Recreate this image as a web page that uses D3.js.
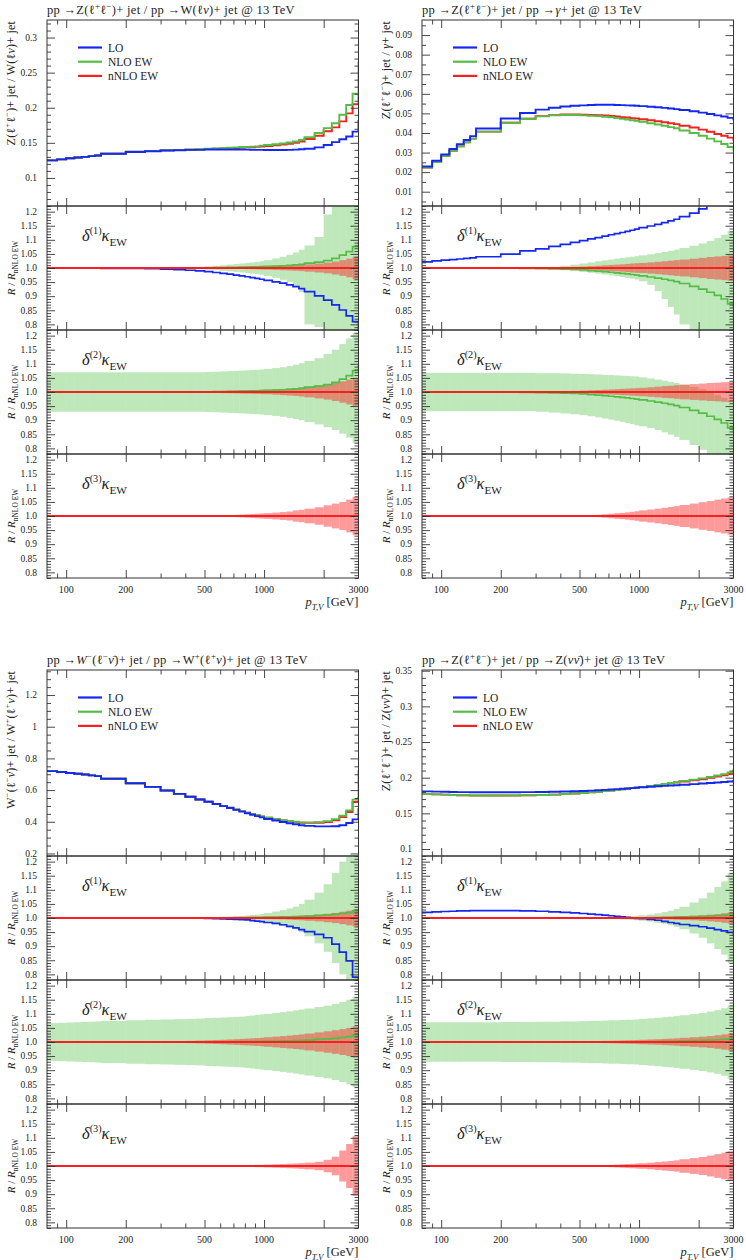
<!DOCTYPE html>
<html><head><meta charset="utf-8">
<script src="https://cdn.jsdelivr.net/npm/d3@7"></script>
<style>
body{margin:0;background:#fff}
svg{display:block}
text{font-family:"Liberation Serif","DejaVu Serif",serif;fill:#222}
</style>
</head><body>
<svg id="c" width="746" height="1260" font-family="Liberation Serif, DejaVu Serif, serif"></svg>
<script>
// ---------------- DATA ----------------
const edges = [80,90,100,110,120,130,140,150,200,250,300,350,400,450,500,550,600,650,700,750,800,850,900,950,1000,1100,1200,1300,1400,1500,1600,1800,2000,2200,2400,2600,2800,3000,3500];
const xMajor = [100,200,500,1000,2000];
const xMinor = [90,300,400,600,700,800,900];
const xLabelVals = [100,200,500,1000,3000];
const xLabelText = ['100','200','500','1000','3000'];
const ratioTicks = [0.8,0.85,0.9,0.95,1.0,1.05,1.1,1.15,1.2];
const ratioTickText = ['0.8','0.85','0.9','0.95','1.0','1.05','1.1','1.15','1.2'];
const seriesNames = ['LO','NLO EW','nNLO EW'];

// Panel A: Z(ll)+jet / W(lv)+jet
const A_TICKS = [0.1,0.15,0.2,0.25,0.3];
const A_TICK_TEXT = ['0.1','0.15','0.2','0.25','0.3'];
const A_LO = [0.125,0.1265,0.128,0.129,0.130,0.131,0.132,0.1345,0.137,0.138,0.139,0.1395,0.140,0.140,0.1405,0.1405,0.1405,0.1405,0.1405,0.1405,0.1403,0.1402,0.140,0.140,0.1398,0.1398,0.1398,0.140,0.1403,0.1408,0.1415,0.1435,0.147,0.151,0.155,0.159,0.166,0.181];
const A_NLO = [0.125,0.1265,0.128,0.129,0.130,0.131,0.132,0.1345,0.1375,0.1385,0.1395,0.140,0.1405,0.141,0.1415,0.142,0.1425,0.143,0.1435,0.144,0.1443,0.1446,0.145,0.146,0.147,0.148,0.149,0.1505,0.152,0.154,0.158,0.164,0.171,0.178,0.19,0.204,0.220,0.265];
const A_NNLO = [0.125,0.1265,0.128,0.129,0.130,0.131,0.132,0.1345,0.1373,0.1383,0.1393,0.1398,0.1403,0.1407,0.1411,0.1415,0.1419,0.1423,0.1427,0.1431,0.1435,0.1439,0.1443,0.1447,0.1455,0.1465,0.1475,0.1485,0.150,0.152,0.1555,0.160,0.1665,0.172,0.1805,0.192,0.205,0.218];
const A_R1_LO = [1,1,1,1,1,1,0.9995,0.999,0.999,0.998,0.996,0.994,0.992,0.99,0.987,0.984,0.981,0.978,0.975,0.972,0.969,0.966,0.963,0.960,0.956,0.951,0.946,0.940,0.934,0.927,0.916,0.901,0.886,0.869,0.851,0.830,0.810,0.77];
const A_RATIO_NLO = [1,1,1,1,1,1,1,1,1,1,1,1,1,1,1.0005,1.001,1.0015,1.002,1.0025,1.003,1.0035,1.004,1.0045,1.005,1.006,1.007,1.008,1.009,1.011,1.013,1.017,1.021,1.026,1.034,1.046,1.058,1.076,1.09];
const A_R1_GUP = [1.0005,1.0005,1.0005,1.0005,1.0005,1.0005,1.0005,1.0005,1.0005,1.0005,1.001,1.002,1.003,1.004,1.006,1.008,1.010,1.012,1.014,1.016,1.018,1.020,1.022,1.024,1.028,1.034,1.040,1.047,1.055,1.065,1.08,1.11,1.19,1.25,1.25,1.25,1.25];
const A_R1_GLO = [0.9995,0.9995,0.9995,0.9995,0.9995,0.9995,0.9995,0.9995,0.9995,0.9995,0.999,0.998,0.997,0.996,0.994,0.992,0.990,0.988,0.986,0.984,0.982,0.980,0.978,0.976,0.971,0.965,0.958,0.95,0.935,0.915,0.80,0.79,0.75,0.75,0.75,0.75,0.75];
const A_R1_RED = [0,0,0,0,0,0,0,0,0,0,0,0,0,0,0.001,0.0015,0.002,0.0025,0.003,0.0035,0.004,0.0045,0.005,0.0055,0.006,0.007,0.008,0.009,0.010,0.011,0.013,0.016,0.019,0.023,0.028,0.033,0.04];
const A_R2_GUP = [1.07,1.07,1.07,1.07,1.07,1.07,1.07,1.07,1.07,1.07,1.07,1.07,1.07,1.07,1.071,1.072,1.073,1.074,1.075,1.076,1.077,1.078,1.079,1.08,1.082,1.085,1.088,1.092,1.097,1.102,1.11,1.12,1.135,1.15,1.17,1.19,1.21];
const A_R2_GLO = [0.93,0.93,0.93,0.93,0.93,0.93,0.93,0.93,0.93,0.93,0.93,0.93,0.93,0.93,0.929,0.928,0.927,0.926,0.925,0.924,0.923,0.922,0.921,0.92,0.918,0.915,0.912,0.908,0.904,0.90,0.893,0.885,0.875,0.865,0.852,0.838,0.82];
const A_R2_RED = [0,0,0,0,0,0,0,0,0,0.0005,0.001,0.0015,0.002,0.0025,0.003,0.0035,0.004,0.0045,0.005,0.0055,0.006,0.0065,0.007,0.0075,0.008,0.0095,0.011,0.0125,0.014,0.016,0.019,0.023,0.027,0.032,0.038,0.044,0.05];
const A_R3_RED = [0,0,0,0,0,0,0,0,0,0,0,0,0,0,0.001,0.0015,0.002,0.003,0.004,0.005,0.006,0.007,0.008,0.009,0.010,0.012,0.014,0.016,0.02,0.022,0.026,0.031,0.038,0.044,0.05,0.058,0.068];

// Panel B: Z(ll)+jet / gamma+jet
const B_TICKS = [0.01,0.02,0.03,0.04,0.05,0.06,0.07,0.08,0.09];
const B_TICK_TEXT = ['0.01','0.02','0.03','0.04','0.05','0.06','0.07','0.08','0.09'];
const B_LO = [0.0229,0.0258,0.0290,0.0318,0.0343,0.0364,0.0384,0.0423,0.0474,0.0502,0.0519,0.0529,0.0535,0.0539,0.0541,0.0543,0.0544,0.0544,0.0544,0.0543,0.0542,0.0541,0.0540,0.0539,0.0537,0.0534,0.0531,0.0528,0.0525,0.0522,0.0517,0.0511,0.0504,0.0497,0.0490,0.0484,0.0477,0.0470];
const B_NLO = [0.0224,0.0252,0.0282,0.0309,0.0332,0.0352,0.0371,0.0407,0.0452,0.0473,0.0485,0.0490,0.0492,0.0492,0.0490,0.0488,0.0486,0.0483,0.0480,0.0476,0.0472,0.0469,0.0465,0.0462,0.0457,0.0450,0.0443,0.0437,0.0430,0.0424,0.0413,0.0400,0.0386,0.0371,0.0357,0.0344,0.0328,0.0313];
const B_NNLO = [0.0224,0.0252,0.0282,0.0309,0.0332,0.0352,0.0371,0.0407,0.0452,0.0473,0.0486,0.0491,0.0494,0.0494,0.0493,0.0492,0.0491,0.0489,0.0487,0.0484,0.0481,0.0479,0.0476,0.0474,0.0470,0.0465,0.0460,0.0455,0.0450,0.0445,0.0437,0.0428,0.0417,0.0406,0.0395,0.0386,0.0376,0.0364];
const B_R1_LO = [1.022,1.025,1.028,1.030,1.032,1.034,1.036,1.040,1.049,1.061,1.068,1.077,1.084,1.091,1.097,1.103,1.108,1.113,1.118,1.122,1.126,1.130,1.134,1.138,1.143,1.149,1.155,1.161,1.167,1.173,1.182,1.195,1.210,1.225,1.240,1.255,1.270,1.29];
const B_RATIO_NLO = [1,1,1,1,1,1,1,1,0.9995,0.999,0.998,0.997,0.996,0.995,0.993,0.991,0.989,0.987,0.985,0.983,0.981,0.979,0.977,0.975,0.972,0.968,0.964,0.960,0.956,0.952,0.945,0.935,0.925,0.914,0.903,0.890,0.873,0.86];
const B_R1_GUP = [1,1,1,1,1,1,1,1,1.0005,1.001,1.002,1.004,1.008,1.012,1.016,1.02,1.024,1.027,1.03,1.033,1.036,1.038,1.04,1.042,1.045,1.049,1.053,1.057,1.061,1.065,1.071,1.079,1.087,1.096,1.106,1.118,1.13];
const B_R1_GLO = [1,1,1,1,1,1,1,1,0.999,0.9985,0.998,0.995,0.992,0.989,0.986,0.983,0.98,0.977,0.974,0.971,0.968,0.965,0.962,0.959,0.953,0.94,0.918,0.89,0.862,0.835,0.80,0.75,0.75,0.75,0.75,0.75,0.75];
const B_R1_RED = [0,0,0,0,0,0,0,0,0,0,0.001,0.002,0.003,0.004,0.005,0.0065,0.008,0.0095,0.011,0.012,0.013,0.0145,0.016,0.017,0.018,0.02,0.022,0.024,0.026,0.028,0.03,0.033,0.036,0.039,0.041,0.043,0.045];
const B_R2_GUP = [1.068,1.068,1.068,1.068,1.068,1.068,1.068,1.068,1.068,1.068,1.067,1.067,1.066,1.065,1.064,1.063,1.062,1.061,1.06,1.059,1.058,1.057,1.056,1.055,1.052,1.048,1.044,1.04,1.036,1.032,1.026,1.018,1.01,1.0,0.99,0.98,0.97];
const B_R2_GLO = [0.932,0.932,0.932,0.932,0.932,0.932,0.932,0.932,0.932,0.932,0.93,0.927,0.924,0.921,0.918,0.914,0.91,0.906,0.902,0.898,0.894,0.89,0.886,0.882,0.878,0.872,0.865,0.857,0.849,0.841,0.83,0.812,0.795,0.775,0.76,0.76,0.76];
const B_R2_RED = [0,0,0,0,0,0,0,0,0,0,0.001,0.002,0.003,0.004,0.005,0.006,0.007,0.008,0.009,0.010,0.011,0.012,0.013,0.014,0.015,0.017,0.019,0.021,0.022,0.024,0.026,0.028,0.030,0.032,0.033,0.035,0.036];
const B_R3_RED = [0,0,0,0,0,0,0,0,0,0,0,0,0,0,0.002,0.003,0.004,0.006,0.008,0.010,0.011,0.013,0.015,0.017,0.02,0.023,0.026,0.029,0.032,0.035,0.039,0.044,0.049,0.053,0.058,0.062,0.066];

// Panel C: W-(l-v)+jet / W+(l+v)+jet
const C_TICKS = [0.2,0.4,0.6,0.8,1.0,1.2];
const C_TICK_TEXT = ['0.2','0.4','0.6','0.8','1','1.2'];
const C_LO = [0.720,0.714,0.708,0.703,0.698,0.693,0.688,0.672,0.643,0.620,0.597,0.576,0.558,0.541,0.526,0.512,0.499,0.487,0.475,0.464,0.454,0.444,0.436,0.428,0.418,0.408,0.399,0.391,0.384,0.378,0.374,0.371,0.371,0.372,0.378,0.392,0.415,0.48];
const C_NLO = [0.720,0.714,0.708,0.703,0.698,0.693,0.688,0.672,0.643,0.620,0.597,0.576,0.558,0.541,0.527,0.513,0.500,0.489,0.478,0.467,0.457,0.448,0.441,0.434,0.426,0.417,0.41,0.404,0.4,0.396,0.396,0.398,0.404,0.417,0.438,0.472,0.54,0.72];
const C_NNLO = [0.720,0.714,0.708,0.703,0.698,0.693,0.688,0.672,0.643,0.620,0.597,0.576,0.558,0.541,0.527,0.513,0.500,0.489,0.478,0.467,0.457,0.448,0.441,0.434,0.425,0.416,0.409,0.403,0.398,0.394,0.393,0.394,0.399,0.41,0.43,0.462,0.525,0.55];
const C_R1_LO = [1,1,1,1,1,1,1,1,1,1,1,1,1,1,0.999,0.998,0.997,0.996,0.995,0.994,0.993,0.991,0.989,0.987,0.984,0.981,0.976,0.97,0.965,0.959,0.952,0.942,0.93,0.907,0.879,0.848,0.79,0.75];
const C_RATIO_NLO = [1,1,1,1,1,1,1,1,1,1,1,1,1,1,1,1,1,1,1.001,1.001,1.001,1.002,1.002,1.002,1.003,1.003,1.004,1.004,1.005,1.006,1.007,1.009,1.011,1.013,1.016,1.019,1.025,1.03];
const C_R1_GUP = [1,1,1,1,1,1,1,1,1,1,1,1,1,1,1.002,1.003,1.004,1.005,1.006,1.0075,1.009,1.0105,1.012,1.014,1.018,1.023,1.028,1.034,1.04,1.05,1.065,1.09,1.12,1.16,1.2,1.25,1.25];
const C_R1_GLO = [1,1,1,1,1,1,1,1,1,1,1,1,1,1,0.998,0.997,0.996,0.995,0.994,0.9925,0.991,0.9895,0.988,0.986,0.982,0.977,0.972,0.966,0.96,0.95,0.935,0.91,0.88,0.84,0.80,0.75,0.75];
const C_R1_RED = [0,0,0,0,0,0,0,0,0,0,0,0,0,0,0,0,0,0,0.001,0.0015,0.002,0.0025,0.003,0.0035,0.004,0.0045,0.005,0.006,0.007,0.008,0.01,0.012,0.015,0.018,0.022,0.026,0.03];
const C_R2_GUP = [1.067,1.068,1.069,1.07,1.071,1.072,1.073,1.075,1.077,1.079,1.08,1.081,1.082,1.083,1.085,1.086,1.087,1.088,1.089,1.09,1.092,1.094,1.096,1.098,1.10,1.103,1.106,1.109,1.112,1.115,1.119,1.124,1.129,1.135,1.142,1.15,1.16];
const C_R2_GLO = [0.933,0.932,0.931,0.93,0.929,0.928,0.927,0.925,0.923,0.921,0.92,0.919,0.918,0.917,0.915,0.914,0.913,0.912,0.911,0.91,0.908,0.906,0.904,0.902,0.90,0.897,0.894,0.891,0.888,0.885,0.881,0.876,0.871,0.865,0.858,0.85,0.84];
const C_R2_RED = [0,0,0,0,0,0,0,0,0.001,0.0015,0.002,0.003,0.004,0.005,0.006,0.007,0.008,0.009,0.01,0.011,0.012,0.013,0.014,0.015,0.017,0.019,0.021,0.023,0.025,0.027,0.03,0.034,0.038,0.042,0.046,0.05,0.055];
const C_R3_RED = [0,0,0,0,0,0,0,0,0,0,0,0,0,0,0.001,0.0015,0.002,0.0025,0.003,0.003,0.003,0.0035,0.004,0.004,0.005,0.006,0.007,0.008,0.009,0.01,0.012,0.015,0.022,0.033,0.055,0.078,0.106];

// Panel D: Z(ll)+jet / Z(vv)+jet
const D_TICKS = [0.1,0.15,0.2,0.25,0.3,0.35];
const D_TICK_TEXT = ['0.1','0.15','0.2','0.25','0.3','0.35'];
const D_LO = [0.1808,0.1805,0.1802,0.1800,0.1798,0.1797,0.1796,0.1795,0.1795,0.1797,0.1799,0.1802,0.1806,0.181,0.1814,0.1819,0.1824,0.1829,0.1834,0.1839,0.1844,0.1849,0.1854,0.1859,0.1866,0.1873,0.1879,0.1885,0.189,0.1895,0.1902,0.191,0.1918,0.1925,0.1932,0.1939,0.1946,0.1955];
const D_NLO = [0.1773,0.1766,0.1762,0.1758,0.1754,0.1753,0.1750,0.1750,0.1750,0.1753,0.1757,0.1763,0.1771,0.1778,0.1785,0.1794,0.1802,0.1811,0.1819,0.1828,0.1837,0.1845,0.1854,0.1861,0.1871,0.1884,0.1897,0.1912,0.1926,0.1938,0.1955,0.1973,0.1991,0.2011,0.2031,0.2050,0.2074,0.2111];
const D_NNLO = [0.1773,0.1766,0.1762,0.1758,0.1754,0.1753,0.1750,0.1750,0.1750,0.1753,0.1757,0.1763,0.1771,0.1778,0.1785,0.1794,0.1802,0.1811,0.1819,0.1828,0.1837,0.1845,0.1854,0.1861,0.1870,0.1882,0.1894,0.1908,0.1921,0.1932,0.1947,0.1963,0.1979,0.1997,0.2015,0.2032,0.2051,0.208];
const D_R1_LO = [1.02,1.022,1.023,1.024,1.025,1.025,1.026,1.026,1.026,1.025,1.024,1.022,1.02,1.018,1.016,1.014,1.012,1.01,1.008,1.006,1.004,1.002,1.0,0.999,0.998,0.995,0.992,0.988,0.984,0.981,0.977,0.973,0.969,0.964,0.959,0.954,0.949,0.94];
const D_RATIO_NLO = [1,1,1,1,1,1,1,1,1,1,1,1,1,1,1,1,1,1,1,1,1,1,1,1,1.0005,1.001,1.0015,1.002,1.0025,1.003,1.004,1.005,1.006,1.007,1.008,1.009,1.011,1.015];
const D_R1_GUP = [1,1,1,1,1,1,1,1,1,1,1,1,1,1,1.001,1.0015,1.002,1.0025,1.003,1.004,1.005,1.006,1.007,1.008,1.01,1.013,1.017,1.021,1.026,1.032,1.04,1.055,1.07,1.09,1.11,1.13,1.16];
const D_R1_GLO = [1,1,1,1,1,1,1,1,1,1,1,1,1,1,0.999,0.9985,0.998,0.9975,0.997,0.996,0.995,0.994,0.993,0.992,0.99,0.987,0.983,0.979,0.974,0.968,0.96,0.945,0.93,0.91,0.89,0.87,0.84];
const D_R1_RED = [0,0,0,0,0,0,0,0,0,0,0,0,0,0,0,0,0,0,0,0,0.001,0.0015,0.002,0.0025,0.003,0.0035,0.004,0.0045,0.005,0.006,0.007,0.008,0.01,0.012,0.014,0.017,0.02];
const D_R2_GUP = [1.07,1.07,1.07,1.07,1.07,1.07,1.07,1.07,1.071,1.071,1.072,1.072,1.073,1.073,1.074,1.075,1.075,1.076,1.077,1.077,1.078,1.079,1.079,1.08,1.082,1.084,1.086,1.088,1.09,1.092,1.095,1.099,1.103,1.108,1.113,1.12,1.13];
const D_R2_GLO = [0.93,0.93,0.93,0.93,0.93,0.93,0.93,0.93,0.929,0.929,0.928,0.928,0.927,0.927,0.926,0.925,0.925,0.924,0.923,0.923,0.922,0.921,0.921,0.92,0.918,0.916,0.914,0.912,0.91,0.908,0.905,0.901,0.897,0.892,0.887,0.88,0.87];
const D_R2_RED = [0,0,0,0,0,0,0,0,0,0,0.0005,0.001,0.0015,0.002,0.0025,0.003,0.0035,0.004,0.0045,0.005,0.0055,0.006,0.0065,0.007,0.008,0.009,0.01,0.011,0.012,0.013,0.015,0.017,0.019,0.021,0.024,0.027,0.03];
const D_R3_RED = [0,0,0,0,0,0,0,0,0,0,0,0,0,0,0.001,0.0015,0.002,0.003,0.004,0.005,0.006,0.007,0.008,0.009,0.01,0.012,0.014,0.016,0.018,0.02,0.024,0.028,0.032,0.037,0.042,0.047,0.052];

// ---------------- TEXT ----------------
const TITLE_A = [['pp →Z(ℓ',''],['+','sup'],['ℓ',''],['−','sup'],[')+ jet / pp →W(ℓ',''],['ν','i'],[')+ jet @ 13 TeV','']];
const TITLE_B = [['pp →Z(ℓ',''],['+','sup'],['ℓ',''],['−','sup'],[')+ jet / pp →',''],['γ','i'],['+ jet @ 13 TeV','']];
const TITLE_C = [['pp →',''],['W','i'],['−','sup'],['(ℓ',''],['−','sup'],['ν̄','i'],[')+ jet / pp →W',''],['+','sup'],['(ℓ',''],['+','sup'],['ν','i'],[')+ jet @ 13 TeV','']];
const TITLE_D = [['pp →Z(ℓ',''],['+','sup'],['ℓ',''],['−','sup'],[')+ jet / pp →Z(',''],['νν̄','i'],[')+ jet @ 13 TeV','']];
const YLAB_A = [['Z(ℓ',''],['+','sup'],['ℓ',''],['−','sup'],[')+ jet / W(ℓ',''],['ν','i'],[')+ jet','']];
const YLAB_B = [['Z(ℓ',''],['+','sup'],['ℓ',''],['−','sup'],[')+ jet / ',''],['γ','i'],['+ jet','']];
const YLAB_C = [['W',''],['−','sup'],['(ℓ',''],['−','sup'],['ν̄','i'],[')+ jet / W',''],['+','sup'],['(ℓ',''],['+','sup'],['ν','i'],[')+ jet','']];
const YLAB_D = [['Z(ℓ',''],['+','sup'],['ℓ',''],['−','sup'],[')+ jet / Z(',''],['νν̄','i'],[')+ jet','']];
const RLAB = [['R','i'],[' / ',''],['R','i'],['nNLO EW','sub']];
const XLAB = [['p','i'],['T,V','isub'],[' [GeV]','']];
const DELTA = n => [['δ','i'],['('+n+')','sup'],['κ','i'],['EW','sub']];

// ---------------- DRAWING ----------------
const svg = d3.select('#c');
const W = 311.5, HM = 186, HR = 124;
const COL = {lo:'#1428f2', nlo:'#55bd45', nnlo:'#f72020'};
const frameCol = '#333';
const FONT = '"Liberation Serif","DejaVu Serif",serif';
let clipN = 0;

function rich(t, parts, size, supScale=0.7, subScale=0.7) {
  let shift = 0;
  t.attr('font-family', FONT);
  parts.forEach(([s, m]) => {
    const sup = m.includes('sup'), sub = m.includes('sub');
    const target = sup ? -size*0.4 : sub ? size*0.28 : 0;
    t.append('tspan').text(s)
      .attr('dy', target - shift)
      .attr('font-size', sup ? size*supScale : sub ? size*subScale : size)
      .attr('font-style', m.includes('i') ? 'italic' : 'normal');
    shift = target;
  });
  return t;
}

function makePanel(x0, top, h, dom) {
  const x = d3.scaleLog().domain([80,3000]).range([x0, x0+W]);
  const y = d3.scaleLinear().domain(dom).range([top+h, top]);
  const id = 'clip'+(clipN++);
  svg.append('clipPath').attr('id', id).append('rect')
    .attr('x', x0).attr('y', top).attr('width', W).attr('height', h);
  const g = svg.append('g');
  const plot = g.append('g').attr('clip-path', `url(#${id})`);
  return {x, y, g, plot, x0, top, h};
}

function stepLine(p, vals, color, width) {
  const pts = [];
  vals.forEach((v, i) => { pts.push([edges[i], v]); pts.push([edges[i+1], v]); });
  p.plot.append('path').datum(pts)
    .attr('fill','none').attr('stroke',color).attr('stroke-width',width)
    .attr('stroke-linejoin','miter')
    .attr('d', d3.line().x(d => p.x(d[0])).y(d => p.y(d[1])));
}

function band(p, up, lo, color, op) {
  const data = up.map((u, i) => ({i, u, l: lo[i]})).filter(d => d.u > d.l);
  p.plot.append('g').selectAll('rect').data(data).join('rect')
    .attr('x', d => p.x(edges[d.i]))
    .attr('width', d => p.x(edges[d.i+1]) - p.x(edges[d.i]))
    .attr('y', d => p.y(d.u))
    .attr('height', d => p.y(d.l) - p.y(d.u))
    .attr('fill', color).attr('fill-opacity', op);
}

function axes(p, yMajor, yText, yMinor, showX) {
  const {x, y, g, x0, top, h} = p;
  const ax = g.append('g');
  const styleAx = s => { s.select('.domain').remove(); s.selectAll('line').attr('stroke', frameCol).attr('stroke-width', 0.9); s.selectAll('text').remove(); };
  ax.append('g').attr('transform',`translate(${x0},0)`).call(d3.axisLeft(y).tickValues(yMajor).tickSize(-8)).call(styleAx);
  ax.append('g').attr('transform',`translate(${x0},0)`).call(d3.axisLeft(y).tickValues(yMinor).tickSize(-4)).call(styleAx);
  ax.append('g').attr('transform',`translate(${x0+W},0)`).call(d3.axisRight(y).tickValues(yMajor).tickSize(-8)).call(styleAx);
  ax.append('g').attr('transform',`translate(${x0+W},0)`).call(d3.axisRight(y).tickValues(yMinor).tickSize(-4)).call(styleAx);
  ax.append('g').attr('transform',`translate(0,${top+h})`).call(d3.axisBottom(x).tickValues(xMajor).tickSize(-8)).call(styleAx);
  ax.append('g').attr('transform',`translate(0,${top+h})`).call(d3.axisBottom(x).tickValues(xMinor).tickSize(-4.5)).call(styleAx);
  ax.append('g').attr('transform',`translate(0,${top})`).call(d3.axisTop(x).tickValues(xMajor).tickSize(-8)).call(styleAx);
  ax.append('g').attr('transform',`translate(0,${top})`).call(d3.axisTop(x).tickValues(xMinor).tickSize(-4.5)).call(styleAx);
  g.append('rect').attr('x', x0).attr('y', top).attr('width', W).attr('height', h)
    .attr('fill','none').attr('stroke', frameCol).attr('stroke-width', 1);
  g.append('g').selectAll('text').data(yMajor).join('text')
    .attr('x', x0 - 10).attr('y', d => y(d) + 3.3)
    .attr('text-anchor','end').attr('font-size', 9.5).attr('font-family', FONT)
    .text((d, i) => yText[i]);
  if (showX) {
    g.append('g').selectAll('text').data(xLabelVals).join('text')
      .attr('x', d => x(d)).attr('y', top + h + 15)
      .attr('text-anchor','middle').attr('font-size', 10).attr('font-family', FONT)
      .text((d, i) => xLabelText[i]);
    rich(g.append('text').attr('x', x0 + W).attr('y', top + h + 28).attr('text-anchor','end'), XLAB, 12.5);
  }
}

function ratioPanel(x0, top, n, cfg, nnloMain, showX) {
  const p = makePanel(x0, top, HR, [0.78, 1.22]);
  if (cfg.gup) band(p, cfg.gup, cfg.glo, '#4cbf3c', 0.36);
  if (cfg.red) band(p, cfg.red.map(w => 1 + w), cfg.red.map(w => 1 - w), '#ff2020', 0.45);
  if (cfg.nlo) stepLine(p, cfg.nlo, COL.nlo, 1.7);
  if (cfg.lo) stepLine(p, cfg.lo, COL.lo, 1.7);
  stepLine(p, nnloMain.map(v => v / v), COL.nnlo, 2);
  const minor = d3.range(78, 123).filter(v => v % 5 !== 0).map(v => v / 100);
  axes(p, ratioTicks, ratioTickText, minor, showX);
  rich(p.g.append('text').attr('x', x0 + 35).attr('y', top + 35), DELTA(n), 16.5, 0.62, 0.68);
  rich(p.g.append('text').attr('transform', `translate(${x0 - 32},${top + HR/2}) rotate(-90)`).attr('text-anchor','middle'), RLAB, 11, 0.7, 0.68);
}

function block(def) {
  const {x0, top} = def;
  rich(svg.append('text').attr('x', x0).attr('y', top - 6).attr('letter-spacing', 0.3), def.title, 12.5);
  const p = makePanel(x0, top, HM, def.dom);
  stepLine(p, def.nnlo, COL.nnlo, 1.9);
  stepLine(p, def.nlo, COL.nlo, 1.9);
  stepLine(p, def.lo, COL.lo, 1.9);
  axes(p, def.ticks, def.tickText, def.minor, false);
  rich(p.g.append('text').attr('transform', `translate(${x0 - 32},${top + 1}) rotate(-90)`).attr('text-anchor','end').attr('letter-spacing', 0.2), def.ylab, 12);
  const cols = [COL.lo, COL.nlo, COL.nnlo];
  seriesNames.forEach((nm, i) => {
    const ly = top + 27.5 + i * 14.2;
    p.g.append('line').attr('x1', x0 + 31).attr('x2', x0 + 55).attr('y1', ly).attr('y2', ly)
      .attr('stroke', cols[i]).attr('stroke-width', 2.2);
    p.g.append('text').attr('x', x0 + 61).attr('y', ly + 4).attr('font-size', 11.5).attr('font-family', FONT).text(nm);
  });
  let t = top + HM;
  ratioPanel(x0, t, 1, def.r1, def.nnlo, false); t += HR;
  ratioPanel(x0, t, 2, def.r2, def.nnlo, false); t += HR;
  ratioPanel(x0, t, 3, def.r3, def.nnlo, true);
}

block({x0:47, top:20, title:TITLE_A, ylab:YLAB_A, dom:[0.06,0.325], ticks:A_TICKS, tickText:A_TICK_TEXT,
  minor: d3.range(6,33).filter(v => v % 5 !== 0).map(v => v/100),
  lo:A_LO, nlo:A_NLO, nnlo:A_NNLO,
  r1:{lo:A_R1_LO, nlo:A_RATIO_NLO, gup:A_R1_GUP, glo:A_R1_GLO, red:A_R1_RED},
  r2:{nlo:A_RATIO_NLO, gup:A_R2_GUP, glo:A_R2_GLO, red:A_R2_RED},
  r3:{red:A_R3_RED}});
block({x0:422, top:20, title:TITLE_B, ylab:YLAB_B, dom:[0.0027,0.0977], ticks:B_TICKS, tickText:B_TICK_TEXT,
  minor: d3.range(1,20).filter(v => v % 2 !== 0).map(v => v*0.005),
  lo:B_LO, nlo:B_NLO, nnlo:B_NNLO,
  r1:{lo:B_R1_LO, nlo:B_RATIO_NLO, gup:B_R1_GUP, glo:B_R1_GLO, red:B_R1_RED},
  r2:{nlo:B_RATIO_NLO, gup:B_R2_GUP, glo:B_R2_GLO, red:B_R2_RED},
  r3:{red:B_R3_RED}});
block({x0:47, top:670, title:TITLE_C, ylab:YLAB_C, dom:[0.184,1.358], ticks:C_TICKS, tickText:C_TICK_TEXT,
  minor: d3.range(4,28).filter(v => v % 4 !== 0).map(v => v*0.05),
  lo:C_LO, nlo:C_NLO, nnlo:C_NNLO,
  r1:{lo:C_R1_LO, nlo:C_RATIO_NLO, gup:C_R1_GUP, glo:C_R1_GLO, red:C_R1_RED},
  r2:{nlo:C_RATIO_NLO, gup:C_R2_GUP, glo:C_R2_GLO, red:C_R2_RED},
  r3:{red:C_R3_RED}});
block({x0:422, top:670, title:TITLE_D, ylab:YLAB_D, dom:[0.0902,0.351], ticks:D_TICKS, tickText:D_TICK_TEXT,
  minor: d3.range(10,36).filter(v => v % 5 !== 0).map(v => v/100),
  lo:D_LO, nlo:D_NLO, nnlo:D_NNLO,
  r1:{lo:D_R1_LO, nlo:D_RATIO_NLO, gup:D_R1_GUP, glo:D_R1_GLO, red:D_R1_RED},
  r2:{nlo:D_RATIO_NLO, gup:D_R2_GUP, glo:D_R2_GLO, red:D_R2_RED},
  r3:{red:D_R3_RED}});
</script>
</body></html>
